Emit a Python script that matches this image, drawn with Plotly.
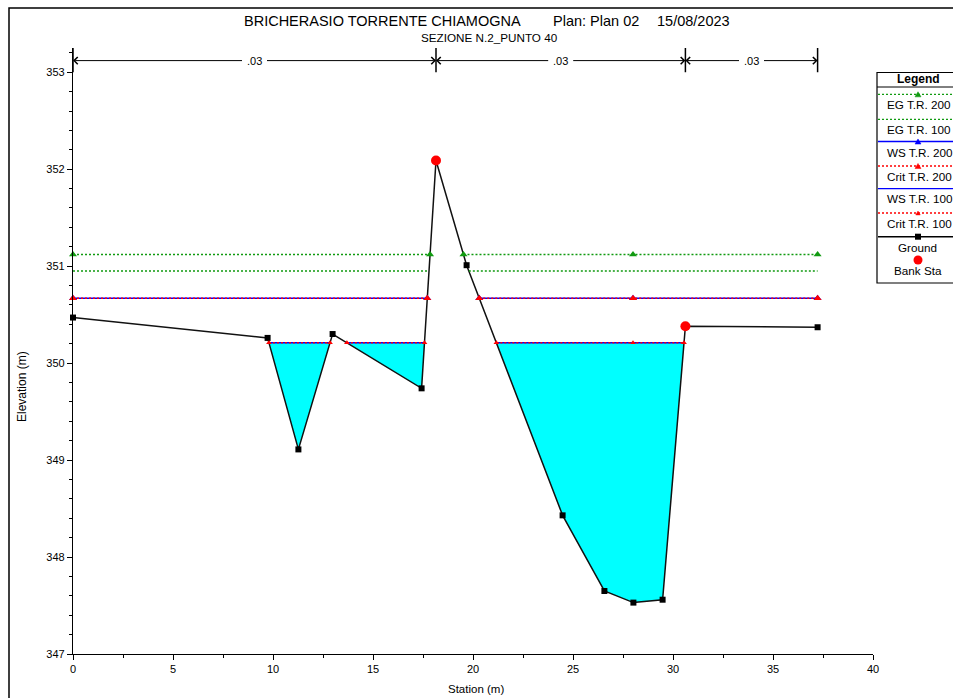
import plotly.graph_objects as go

# ---------------- data ----------------
title_main = "BRICHERASIO TORRENTE CHIAMOGNA"
title_plan = "Plan: Plan 02"
title_date = "15/08/2023"
subtitle = "SEZIONE N.2_PUNTO 40"

ground_sta = [0.0, 9.73, 11.27, 12.98, 17.43, 18.15, 19.68, 24.48, 26.57, 28.02, 29.48, 30.62, 37.23]
ground_elev = [350.47, 350.26, 349.11, 350.30, 349.74, 352.09, 351.01, 348.43, 347.65, 347.53, 347.56, 350.38, 350.37]

bank_sta = [18.15, 30.62]
bank_elev = [352.09, 350.38]

profile_names = ["EG T.R. 200", "EG T.R. 100", "WS T.R. 200", "Crit T.R. 200", "WS T.R. 100", "Crit T.R. 100"]
profile_elev = [351.12, 350.95, 350.67, 350.67, 350.21, 350.21]
profile_symbol_sta = [28.0]

n_sta = [0.0, 18.15, 30.62, 37.23]
n_val = [".03", ".03", ".03"]
n_level = 353.12

x_ticks = [0, 5, 10, 15, 20, 25, 30, 35, 40]
y_ticks = [347, 348, 349, 350, 351, 352, 353]

# ---------------- styles ----------------
GREEN = "#109a10"
RED = "#ff0000"
BLUE = "#0000ff"
CYAN = "#00ffff"
FONT = "Liberation Sans, Arial, sans-serif"
DOT = "2px,2px"

styles = {
    "EG T.R. 200": dict(color=GREEN, dash=DOT, symbol="triangle-up", msize=7),
    "EG T.R. 100": dict(color=GREEN, dash=DOT, symbol=None, msize=0),
    "WS T.R. 200": dict(color=BLUE, dash="solid", symbol="triangle-up", msize=7),
    "Crit T.R. 200": dict(color=RED, dash=DOT, symbol="triangle-up", msize=7),
    "WS T.R. 100": dict(color=BLUE, dash="solid", symbol=None, msize=0),
    "Crit T.R. 100": dict(color=RED, dash=DOT, symbol="triangle-up", msize=5),
}


def wet_segments(level):
    segs = []
    start = ground_sta[0] if ground_elev[0] < level else None
    for i in range(len(ground_sta) - 1):
        x0, x1 = ground_sta[i], ground_sta[i + 1]
        e0, e1 = ground_elev[i], ground_elev[i + 1]
        if (e0 - level) * (e1 - level) < 0:
            xc = x0 + (level - e0) / (e1 - e0) * (x1 - x0)
            if start is None:
                start = xc
            else:
                segs.append((start, xc))
                start = None
    if start is not None:
        segs.append((start, ground_sta[-1]))
    return segs


fig = go.Figure()

# water fill for WS T.R. 100
ws100 = profile_elev[4]
for (a, b) in wet_segments(ws100):
    xs = [a] + [s for s in ground_sta if a < s < b] + [b]
    ys = [ws100] + [e for s, e in zip(ground_sta, ground_elev) if a < s < b] + [ws100]
    fig.add_trace(go.Scatter(x=xs + [a], y=ys + [ws100], mode="lines", fill="toself",
                             fillcolor=CYAN, line=dict(width=0), hoverinfo="skip",
                             showlegend=False))

# ground line
fig.add_trace(go.Scatter(x=ground_sta, y=ground_elev, mode="lines+markers",
                         line=dict(color="#111111", width=1.5),
                         marker=dict(symbol="square", size=6, color="black"),
                         showlegend=False, cliponaxis=False))

# profiles
for name, lev in zip(profile_names, profile_elev):
    st = styles[name]
    lx, ly, mx, my = [], [], [], []
    for (a, b) in wet_segments(lev):
        lx += [a, b, None]
        ly += [lev, lev, None]
        pts = [a] + [s for s in profile_symbol_sta if a < s < b] + [b]
        mx += pts
        my += [lev] * len(pts)
    fig.add_trace(go.Scatter(x=lx, y=ly, mode="lines",
                             line=dict(color=st["color"], width=1.5, dash=st["dash"]),
                             showlegend=False, cliponaxis=False, connectgaps=False))
    if st["symbol"]:
        fig.add_trace(go.Scatter(x=mx, y=my, mode="markers",
                                 marker=dict(symbol=st["symbol"], size=st["msize"], color=st["color"]),
                                 showlegend=False, cliponaxis=False))

# bank stations
fig.add_trace(go.Scatter(x=bank_sta, y=bank_elev, mode="markers",
                         marker=dict(symbol="circle", size=10, color=RED),
                         showlegend=False, cliponaxis=False))

shapes = []
annotations = []

# Manning n zone markers
for s in n_sta:
    shapes.append(dict(type="line", xref="x", yref="y", x0=s, x1=s, y0=353.0, y1=353.25,
                       line=dict(color="black", width=1.5)))
for i, v in enumerate(n_val):
    a, b = n_sta[i], n_sta[i + 1]
    mid = (a + b) / 2
    gap = 0.55
    annotations.append(dict(x=mid, y=n_level, xref="x", yref="y", text=v, showarrow=False,
                            font=dict(family=FONT, size=11, color="black")))
    for tgt, tail in ((a, mid - gap), (b, mid + gap)):
        annotations.append(dict(x=tgt, y=n_level, xref="x", yref="y", ax=tail, ay=n_level,
                                axref="x", ayref="y", text="", showarrow=True,
                                arrowhead=4, arrowsize=1.4, arrowwidth=1, arrowcolor="black",
                                standoff=0, startstandoff=0))

# pixel -> paper helpers (plot area: x 73..873, y 48..654)
def PX(p):
    return (p - 73) / 800.0


def PY(p):
    return (654 - p) / 606.0


# outer frame
shapes.append(dict(type="rect", xref="paper", yref="paper", x0=PX(9), x1=PX(990),
                   y0=PY(730), y1=PY(8), line=dict(color="black", width=1.5), layer="above"))

# titles
annotations += [
    dict(x=PX(242), y=PY(21), xref="paper", yref="paper", xanchor="left", yanchor="middle",
         text=title_main, showarrow=False, font=dict(family=FONT, size=14.5, color="black")),
    dict(x=PX(551), y=PY(21), xref="paper", yref="paper", xanchor="left", yanchor="middle",
         text=title_plan, showarrow=False, font=dict(family=FONT, size=14.5, color="black")),
    dict(x=PX(655), y=PY(21), xref="paper", yref="paper", xanchor="left", yanchor="middle",
         text=title_date, showarrow=False, font=dict(family=FONT, size=14.5, color="black")),
    dict(x=PX(489.5), y=PY(38), xref="paper", yref="paper", xanchor="center", yanchor="middle",
         text=subtitle, showarrow=False, font=dict(family=FONT, size=11.7, color="black")),
    dict(x=PX(22), y=PY(387), xref="paper", yref="paper", xanchor="center", yanchor="middle",
         text="Elevation (m)", textangle=-90, showarrow=False,
         font=dict(family=FONT, size=12, color="black")),
    dict(x=PX(476), y=PY(689), xref="paper", yref="paper", xanchor="center", yanchor="middle",
         text="Station (m)", showarrow=False, font=dict(family=FONT, size=11.5, color="black")),
]

# legend box
LX0, LX1 = 877, 962
shapes.append(dict(type="rect", xref="paper", yref="paper", x0=PX(LX0), x1=PX(LX1),
                   y0=PY(283), y1=PY(72.5), line=dict(color="black", width=1.2),
                   fillcolor="white", layer="above"))
shapes.append(dict(type="line", xref="paper", yref="paper", x0=PX(LX0), x1=PX(LX1),
                   y0=PY(87), y1=PY(87), line=dict(color="black", width=1), layer="above"))
annotations.append(dict(x=PX(918.5), y=PY(79), xref="paper", yref="paper", text="<b>Legend</b>",
                        showarrow=False, xanchor="center", yanchor="middle",
                        font=dict(family=FONT, size=12, color="black")))

leg_line_y = [94.3, 119.3, 141.5, 166, 188.7, 213]
leg_text_y = [105, 129, 152.5, 176, 198.5, 223]
MX = 918


def tri(cx, cy, w, h, color):
    path = "M {} {} L {} {} L {} {} Z".format(PX(cx - w / 2), PY(cy + h / 2), PX(cx + w / 2),
                                             PY(cy + h / 2), PX(cx), PY(cy - h / 2))
    return dict(type="path", xref="paper", yref="paper", path=path, fillcolor=color,
                line=dict(color=color, width=0.5), layer="above")


for name, ly, ty in zip(profile_names, leg_line_y, leg_text_y):
    st = styles[name]
    shapes.append(dict(type="line", xref="paper", yref="paper", x0=PX(LX0 + 1), x1=PX(LX1 - 1),
                       y0=PY(ly), y1=PY(ly),
                       line=dict(color=st["color"], width=1.3, dash=st["dash"]), layer="above"))
    if st["symbol"]:
        s = 6 if st["msize"] >= 7 else 4.5
        shapes.append(tri(MX, ly, s, s * 0.85, st["color"]))
    annotations.append(dict(x=PX(885), y=PY(ty), xref="paper", yref="paper", text=name,
                            showarrow=False, xanchor="left", yanchor="middle",
                            font=dict(family=FONT, size=11.7, color="black")))

# Ground legend
shapes.append(dict(type="line", xref="paper", yref="paper", x0=PX(LX0 + 1), x1=PX(LX1 - 1),
                   y0=PY(236.7), y1=PY(236.7), line=dict(color="black", width=1.5), layer="above"))
shapes.append(dict(type="rect", xref="paper", yref="paper", x0=PX(MX - 3), x1=PX(MX + 3),
                   y0=PY(236.7 + 3), y1=PY(236.7 - 3), fillcolor="black",
                   line=dict(color="black", width=0), layer="above"))
annotations.append(dict(x=PX(MX), y=PY(247), xref="paper", yref="paper", text="Ground",
                        showarrow=False, xanchor="center", yanchor="middle",
                        font=dict(family=FONT, size=11.7, color="black")))
# Bank Sta legend
shapes.append(dict(type="circle", xref="paper", yref="paper", x0=PX(MX - 4.5), x1=PX(MX + 4.5),
                   y0=PY(260 + 4.5), y1=PY(260 - 4.5), fillcolor=RED,
                   line=dict(color=RED, width=0), layer="above"))
annotations.append(dict(x=PX(MX), y=PY(270.5), xref="paper", yref="paper", text="Bank Sta",
                        showarrow=False, xanchor="center", yanchor="middle",
                        font=dict(family=FONT, size=11.7, color="black")))

fig.update_layout(
    width=953, height=698,
    margin=dict(l=73, r=80, t=48, b=44, pad=0),
    paper_bgcolor="white", plot_bgcolor="white",
    showlegend=False,
    font=dict(family=FONT, size=11, color="black"),
    shapes=shapes, annotations=annotations,
    xaxis=dict(range=[0, 40], tickvals=x_ticks, ticktext=[str(v) for v in x_ticks],
               showline=True, linecolor="black", linewidth=1.2, ticks="outside",
               ticklen=5, tickwidth=1.2, tickcolor="black", showgrid=False, zeroline=False,
               tickfont=dict(family=FONT, size=11, color="black"),
               minor=dict(dtick=2.5, tick0=0, ticks="outside", ticklen=3, tickwidth=1.2,
                          tickcolor="black", showgrid=False)),
    yaxis=dict(range=[347, 353.25], tickvals=y_ticks, ticktext=[str(v) for v in y_ticks],
               showline=True, linecolor="black", linewidth=1.2, ticks="outside",
               ticklen=5, tickwidth=1.2, tickcolor="black", showgrid=False, zeroline=False,
               tickfont=dict(family=FONT, size=11, color="black"),
               minor=dict(dtick=0.2, tick0=347, ticks="outside", ticklen=3, tickwidth=1.2,
                          tickcolor="black", showgrid=False)),
)

fig.write_html("out.html", config={"displayModeBar": False},
               post_script="document.body.style.margin='0px';document.body.style.overflow='hidden';")
